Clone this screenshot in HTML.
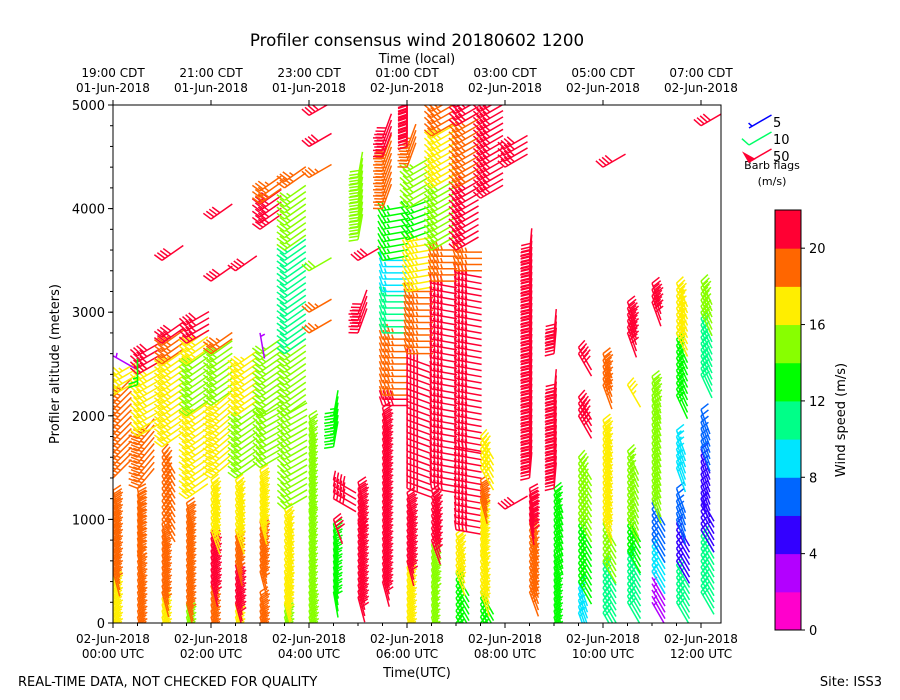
<!DOCTYPE html>
<html><head><meta charset="utf-8"><style>
body{margin:0;background:#fff;}
svg{display:block;font-family:"DejaVu Sans","Liberation Sans",sans-serif;}
</style></head><body>
<svg id="chart" width="900" height="700" xmlns="http://www.w3.org/2000/svg">
<defs><clipPath id="plotclip"><rect x="113" y="105" width="608" height="518"/></clipPath></defs>
<text x="417" y="46" font-size="16.7" text-anchor="middle">Profiler consensus wind 20180602 1200</text>
<text x="417" y="63" font-size="13" text-anchor="middle">Time (local)</text>
<text x="417" y="677" font-size="13" text-anchor="middle">Time(UTC)</text>
<text transform="translate(59,364) rotate(-90)" font-size="13" text-anchor="middle">Profiler altitude (meters)</text>
<text x="18" y="686" font-size="13">REAL-TIME DATA, NOT CHECKED FOR QUALITY</text>
<text x="882" y="686" font-size="13" text-anchor="end">Site: ISS3</text>
<g id="barbs" clip-path="url(#plotclip)"></g>
<rect x="113" y="105" width="608" height="518" fill="none" stroke="#000" stroke-width="1"/>
<g id="axes"></g>
<g id="legend">
<text x="772" y="169" font-size="11" text-anchor="middle">Barb flags</text>
<text x="772" y="185" font-size="11" text-anchor="middle">(m/s)</text>
</g>
<g id="cbar"></g>
<text transform="translate(845,420) rotate(-90)" font-size="13" text-anchor="middle">Wind speed (m/s)</text>
</svg>
<script>
// ---- data ----
const colTimes = [0,0.5,1,1.5,2,2.5,3,3.5,4,4.5,5,5.5,6,6.5,7,7.5,8,8.5,9,9.5,10,10.5,11,11.5,12];
// per column: [altLow, altHigh, speed m/s, staff angle deg]
const colSegments = [
 [[0,500,17,165],[500,1300,19,165],[1400,2200,19,45],[2200,2400,17,60],[2580,2600,2,120]],
 [[0,700,19,165],[700,1300,19,170],[1300,1800,19,40],[1800,2400,17,60],[2400,2600,20,60],[2300,2320,13,0]],
 [[0,300,17,165],[300,1000,19,165],[1000,1700,19,150],[1700,2500,17,55],[2500,2700,19,55],[2700,2800,21,55],[3500,3520,21,55]],
 [[0,200,15,165],[200,1200,19,165],[1200,2000,17,55],[2000,2500,15,55],[2500,2700,17,55],[2700,2900,21,60]],
 [[0,400,19,165],[400,900,20,165],[900,1400,17,160],[1400,2100,17,50],[2100,2600,15,55],[2600,2700,19,55],[3300,3340,21,55],[3900,3920,21,55]],
 [[0,200,17,165],[200,600,21,165],[600,900,19,165],[900,1400,17,160],[1400,2000,15,55],[2000,2500,17,55],[3400,3440,21,55]],
 [[0,300,18,165],[500,1000,19,165],[1000,1500,17,165],[1500,2000,15,60],[2000,2600,14,55],[2800,2820,2,170],[3800,4050,21,55],[4050,4200,19,55]],
 [[0,200,15,165],[200,500,17,165],[500,1100,17,160],[1100,2000,14,60],[2000,2600,14,55],[2600,3600,11,55],[3600,4100,14,55],[4200,4300,19,55]],
 [[0,300,15,165],[300,1100,14,165],[1100,2000,14,165],[2800,2820,19,60],[3000,3020,19,60],[3400,3420,15,60],[4300,4320,19,60],[4600,4620,21,60],[4900,4920,21,60]],
 [[300,1000,13,170],[1000,1020,21,160],[1200,1400,21,120],[1700,2000,13,10]],
 [[250,1000,21,165],[1000,1400,21,165],[2800,3000,21,20],[3500,3520,21,60],[3700,4300,15,10]],
 [[400,2100,21,165],[2100,2200,21,90],[2200,2800,19,90],[2800,3200,11,90],[3200,3500,9,90],[3500,4000,13,80],[4000,4500,19,20],[4500,4700,21,20]],
 [[0,600,16,165],[600,1300,21,165],[1300,2600,21,110],[2600,3200,19,90],[3200,3700,17,80],[3700,4000,13,70],[4000,4400,14,60],[4400,4600,19,20],[4600,5000,21,0]],
 [[0,400,14,165],[400,800,15,165],[800,1300,21,160],[1300,3300,21,100],[3300,3600,19,90],[3600,4200,15,60],[4200,4700,17,60],[4700,5000,19,60]],
 [[0,500,13,150],[500,900,16,160],[900,1700,21,100],[1700,3400,21,100],[3400,3600,19,90],[3600,4200,21,60],[4200,4800,18,60],[4800,5000,21,60]],
 [[0,300,13,150],[300,700,17,160],[700,1200,17,165],[1200,1400,19,165],[1500,1800,17,150],[4100,5000,21,60]],
 [[1100,1120,21,60],[4400,4600,21,60]],
 [[300,1000,19,160],[1000,1300,21,170],[1400,3600,21,5]],
 [[0,700,13,165],[700,1300,12,160],[1300,2200,21,5],[2600,2800,21,5]],
 [[100,400,9,160],[400,1000,13,150],[1000,1600,15,150],[2000,2200,21,150],[2600,2700,21,150]],
 [[100,600,11,150],[600,1000,14,150],[1000,1600,17,160],[1600,2000,17,160],[2300,2600,19,160],[4400,4420,21,60]],
 [[200,700,11,150],[700,1000,13,150],[1000,1700,14,155],[2300,2320,17,150],[2800,3100,21,160]],
 [[200,500,3,150],[500,800,9,150],[800,1200,6,150],[1200,2200,14,160],[2200,2400,15,160],[3100,3300,21,160]],
 [[200,600,10,150],[600,1000,4,150],[1000,1300,6,160],[1500,1900,9,160],[2200,2800,13,155],[2800,3300,17,155]],
 [[300,900,10,150],[900,1200,4,150],[1200,1700,5,160],[1700,2100,6,160],[2400,3000,11,155],[3000,3300,15,155],[4800,4820,21,60]]
];
const cbarColors = ["#ff00cc","#b300ff","#3300ff","#0066ff","#00e5ff","#00ff88","#00ff00","#88ff00","#ffee00","#ff6600","#ff0033"];
const cbarTicks = [0,4,8,12,16,20];
const yTicks = [0,1000,2000,3000,4000,5000];
const bottomTickHours = [0,2,4,6,8,10,12];
const bottomLabels = [["02-Jun-2018","00:00 UTC"],["02-Jun-2018","02:00 UTC"],["02-Jun-2018","04:00 UTC"],["02-Jun-2018","06:00 UTC"],["02-Jun-2018","08:00 UTC"],["02-Jun-2018","10:00 UTC"],["02-Jun-2018","12:00 UTC"]];
const topLabels = [["19:00 CDT","01-Jun-2018"],["21:00 CDT","01-Jun-2018"],["23:00 CDT","01-Jun-2018"],["01:00 CDT","02-Jun-2018"],["03:00 CDT","02-Jun-2018"],["05:00 CDT","02-Jun-2018"],["07:00 CDT","02-Jun-2018"]];
const legendSpeeds = [5,10,50];

// ---- scales ----
const X0=113, X1=721, Y0=623, Y1=105;
const xScale = h => X0 + h*49;
const yScale = a => Y0 - (a/5000)*(Y0-Y1);
const NS="http://www.w3.org/2000/svg";
function mk(tag, attrs, parent){const e=document.createElementNS(NS,tag);for(const k in attrs)e.setAttribute(k,attrs[k]);parent.appendChild(e);return e;}
function colorFor(s){let i=Math.floor(s/2);if(i<0)i=0;if(i>10)i=10;return cbarColors[i];}

function drawBarb(parent, px, py, speedMs, theta, color){
  const g=mk('g',{stroke:color,fill:color,'stroke-width':1.5},parent);
  
  
  const r=theta*Math.PI/180, dx=Math.sin(r), dy=-Math.cos(r);
  const L=26;
  mk('line',{x1:px,y1:py,x2:px+dx*L,y2:py+dy*L},g);
  const pxv=dy, pyv=-dx;
  let kt=Math.round(speedMs*1.944/5)*5;
  let pos=0; const step=3.6;
  while(kt>=50){const bx=px+dx*pos,by=py+dy*pos;
    mk('polygon',{points:`${bx},${by} ${bx+pxv*10},${by+pyv*10} ${bx+dx*6},${by+dy*6}`},g);pos+=7;kt-=50;}
  while(kt>=10){const bx=px+dx*pos,by=py+dy*pos;
    mk('line',{x1:bx,y1:by,x2:bx+pxv*9-dx*3,y2:by+pyv*9-dy*3},g);pos+=step;kt-=10;}
  if(kt>=5){if(pos===0)pos=step;const bx=px+dx*pos,by=py+dy*pos;
    mk('line',{x1:bx,y1:by,x2:bx+pxv*4.5-dx*1.5,y2:by+pyv*4.5-dy*1.5},g);}
}

const barbs=document.getElementById('barbs');
colTimes.forEach((t,ci)=>{
  const cg=mk('g',{},barbs);
  
  
  colSegments[ci].forEach(seg=>{
    const [lo,hi,sp,th]=seg;
    for(let a=lo;a<=hi;a+=60){drawBarb(cg,xScale(t),yScale(a),sp,th,colorFor(sp));}
  });
});

// axes
const ax=document.getElementById('axes');
yTicks.forEach(v=>{const y=yScale(v);
  mk('line',{x1:X0-5,y1:y,x2:X0,y2:y,stroke:'#000'},ax);
  const tx=mk('text',{x:X0-8,y:y+5,'font-size':13,'text-anchor':'end'},ax);tx.textContent=v;
  
  
});
for(let v=0;v<5000;v+=200){const y=yScale(v);mk('line',{x1:X0-3,y1:y,x2:X0,y2:y,stroke:'#000'},ax);}
bottomTickHours.forEach((h,i)=>{const x=xScale(h);
  mk('line',{x1:x,y1:Y0,x2:x,y2:Y0+5,stroke:'#000'},ax);
  mk('line',{x1:x,y1:Y1,x2:x,y2:Y1-5,stroke:'#000'},ax);
  const t1=mk('text',{x:x,y:643,'font-size':12,'text-anchor':'middle'},ax);t1.textContent=bottomLabels[i][0];
  
  
  const t2=mk('text',{x:x,y:658,'font-size':12,'text-anchor':'middle'},ax);t2.textContent=bottomLabels[i][1];
  
  
  const t3=mk('text',{x:x,y:77,'font-size':12,'text-anchor':'middle'},ax);t3.textContent=topLabels[i][0];
  
  
  const t4=mk('text',{x:x,y:92,'font-size':12,'text-anchor':'middle'},ax);t4.textContent=topLabels[i][1];
  
  
});
for(let h=0;h<12.4;h+=0.5){const x=xScale(h);mk('line',{x1:x,y1:Y0,x2:x,y2:Y0+3,stroke:'#000'},ax);}

// legend
const lg=document.getElementById('legend');
legendSpeeds.forEach((s,i)=>{const y=128+i*17;
  const col=['#0000ff','#00ff66','#ff0033'][i];
  drawBarb(lg,749,y,s/1.944,60,col);
  const t=mk('text',{x:773,y:y-1,'font-size':13},lg);t.textContent=s;
  
  
});

// colorbar
const cb=document.getElementById('cbar');
const CB0=630, CB1=210, CX=775, CW=26;
const cbY=v=>CB0-(v/22)*(CB0-CB1);
cbarColors.forEach((c,i)=>{const r=mk('rect',{x:CX,y:cbY((i+1)*2),width:CW,height:cbY(i*2)-cbY((i+1)*2)+0.5,fill:c},cb);
  
  });
mk('rect',{x:CX,y:CB1,width:CW,height:CB0-CB1,fill:'none',stroke:'#000'},cb);
cbarTicks.forEach(v=>{const y=cbY(v);mk('line',{x1:CX+CW,y1:y,x2:CX+CW+4,y2:y,stroke:'#000'},cb);
  const t=mk('text',{x:CX+CW+8,y:y+5,'font-size':13},cb);t.textContent=v;
  
  });
</script>
</body></html>
